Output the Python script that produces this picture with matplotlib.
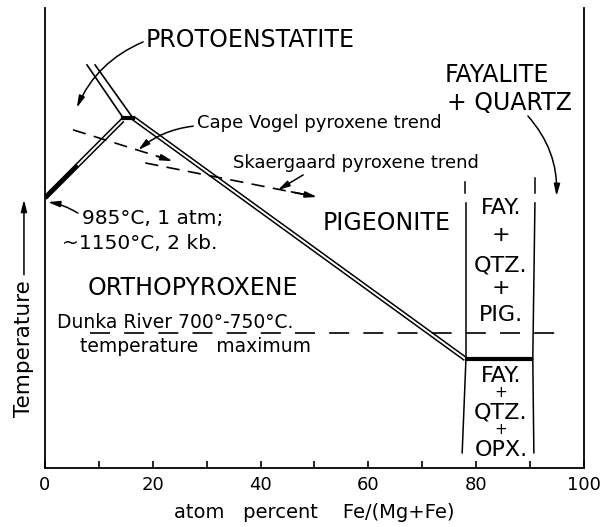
import numpy as np
import matplotlib.pyplot as plt

# phase boundaries, x = atom % Fe/(Mg+Fe), y = relative temperature (0-100)
opx_pig_x = [0, 14.4]
opx_pig_y = [58.7, 75.6]
pig_fq_x = [16.3, 78.0]
pig_fq_y = [76.1, 23.7]
proto_left_x = [7.8, 14.5]
proto_left_y = [87.6, 76.1]
proto_right_x = [9.3, 16.3]
proto_right_y = [87.6, 76.1]
invariant_x = [78.0, 90.4]
invariant_y = [23.7, 23.7]

# fayalite + quartz box edges
box_up_left_x = [78.1, 78.1]
box_up_left_y = [23.7, 57.6]
box_up_right_x = [90.5, 90.9]
box_up_right_y = [23.7, 57.6]
box_tick_left_x = [78.0, 78.0]
box_tick_left_y = [59.8, 62.2]
box_tick_right_x = [90.9, 90.9]
box_tick_right_y = [59.8, 63.0]
box_low_left_x = [78.1, 77.4]
box_low_left_y = [23.7, 3.3]
box_low_right_x = [90.5, 90.7]
box_low_right_y = [23.7, 3.3]

# Dunka River maximum temperature
dunka_x = [8.3, 96.5]
dunka_y = [29.3, 29.3]

# pyroxene crystallisation trends
cape_x = [5.2, 23.7]
cape_y = [73.5, 66.7]
skaer_x = [18.6, 50.5]
skaer_y = [66.3, 58.9]

xticks = [0, 20, 40, 60, 80, 100]
xticks_minor = [10, 30, 50, 70, 90]

fig = plt.figure(figsize=(6.07, 5.27), dpi=100)
ax = fig.add_axes([0.0741, 0.112, 0.888, 0.873])
ax.set_xlim(0, 100)
ax.set_ylim(0, 100)

def double_line(x, y, start_solid=None):
    ax.plot(x, y, color='black', lw=3.6, solid_capstyle='butt')
    if start_solid is not None:
        t = start_solid
        x = [x[0] + t * (x[1] - x[0]), x[1]]
        y = [y[0] + t * (y[1] - y[0]), y[1]]
    ax.plot(x, y, color='white', lw=1.4, solid_capstyle='butt')

double_line(opx_pig_x, opx_pig_y, start_solid=0.42)
double_line(pig_fq_x, pig_fq_y)
ax.plot(proto_left_x, proto_left_y, color='black', lw=1.2)
ax.plot(proto_right_x, proto_right_y, color='black', lw=1.2)
ax.plot([proto_left_x[1], proto_right_x[1]], [proto_left_y[1], proto_right_y[1]],
        color='black', lw=3)
ax.plot(invariant_x, invariant_y, color='black', lw=3, solid_capstyle='butt')

for bx, by in [(box_up_left_x, box_up_left_y), (box_up_right_x, box_up_right_y),
               (box_tick_left_x, box_tick_left_y), (box_tick_right_x, box_tick_right_y),
               (box_low_left_x, box_low_left_y), (box_low_right_x, box_low_right_y)]:
    ax.plot(bx, by, color='black', lw=1.1)

ax.plot(dunka_x, dunka_y, color='black', lw=1.2, linestyle=(0, (12, 8.5)))

# trends: dashed line + arrow head
for tx, ty in [(cape_x, cape_y), (skaer_x, skaer_y)]:
    ax.plot(tx[:1] + [tx[0] + 0.93 * (tx[1] - tx[0])],
            ty[:1] + [ty[0] + 0.93 * (ty[1] - ty[0])],
            color='black', lw=1.2, linestyle=(0, (8, 5)))
    ax.annotate('', xy=(tx[1], ty[1]),
                xytext=(tx[0] + 0.85 * (tx[1] - tx[0]), ty[0] + 0.85 * (ty[1] - ty[0])),
                arrowprops=dict(arrowstyle='-|>,head_length=0.7,head_width=0.18',
                                color='black', lw=1.2, shrinkA=0, shrinkB=0))

arrow = dict(arrowstyle='-|>,head_length=0.7,head_width=0.18', color='black',
             lw=1.1, shrinkA=0, shrinkB=0)

# labels
big = 17
ax.text(18.6, 93.0, 'PROTOENSTATITE', fontsize=big, ha='left', va='center')
ax.annotate('', xy=(5.9, 78.3), xytext=(18.2, 92.6),
            arrowprops=dict(arrow, connectionstyle='arc3,rad=0.2'))
ax.text(74.2, 85.4, 'FAYALITE', fontsize=big, ha='left', va='center')
ax.text(74.6, 79.3, '+ QUARTZ', fontsize=big, ha='left', va='center')
ax.annotate('', xy=(94.9, 59.1), xytext=(89.6, 76.5),
            arrowprops=dict(arrow, connectionstyle='arc3,rad=-0.2'))

ax.text(28.2, 75.0, 'Cape Vogel pyroxene trend', fontsize=13, ha='left', va='center')
ax.annotate('', xy=(17.3, 69.1), xytext=(27.5, 74.3),
            arrowprops=dict(arrow, connectionstyle='arc3,rad=0.15'))
ax.text(34.9, 66.3, 'Skaergaard pyroxene trend', fontsize=13, ha='left', va='center')
ax.annotate('', xy=(43.2, 60.4), xytext=(47.9, 63.7), arrowprops=arrow)

ax.text(6.9, 54.3, '985°C, 1 atm;', fontsize=14.5, ha='left', va='center')
ax.text(3.2, 48.9, '~1150°C, 2 kb.', fontsize=14.5, ha='left', va='center')
ax.annotate('', xy=(0.55, 57.8), xytext=(6.1, 55.4),
            arrowprops=dict(arrow, connectionstyle='arc3,rad=0.1'))

ax.text(51.6, 53.3, 'PIGEONITE', fontsize=big, ha='left', va='center')
ax.text(8.0, 39.1, 'ORTHOPYROXENE', fontsize=big, ha='left', va='center')
ax.text(2.2, 31.7, 'Dunka River 700°-750°C.', fontsize=13.5, ha='left', va='center')
ax.text(6.5, 26.3, 'temperature   maximum', fontsize=13.5, ha='left', va='center')

upper_box = ['FAY.', '+', 'QTZ.', '+', 'PIG.']
upper_y = [56.5, 50.7, 44.1, 39.1, 33.3]
for s, yy in zip(upper_box, upper_y):
    ax.text(84.6, yy, s, fontsize=16, ha='center', va='center')
lower_box = ['FAY.', '+', 'QTZ.', '+', 'OPX.']
lower_y = [20.0, 16.3, 12.0, 8.3, 3.9]
for s, yy in zip(lower_box, lower_y):
    ax.text(84.6, yy, s, fontsize=16 if s != '+' else 11, ha='center', va='center')

# y axis label with arrow
ax.text(-3.9, 26.0, 'Temperature', fontsize=15.5, rotation=90, ha='center', va='center',
        clip_on=False)
ax.annotate('', xy=(-3.9, 58.3), xytext=(-3.9, 42.0), annotation_clip=False,
            arrowprops=arrow)

# axes
ax.spines['top'].set_visible(False)
for s in ['left', 'right', 'bottom']:
    ax.spines[s].set_linewidth(1.3)
ax.set_yticks([])
ax.set_xticks(xticks)
ax.set_xticks(xticks_minor, minor=True)
ax.tick_params(axis='x', which='both', direction='in', length=5, width=1.2,
               labelsize=13, pad=6)
ax.set_xlabel('atom   percent    Fe/(Mg+Fe)', fontsize=14, labelpad=6)

fig.savefig('out.png', dpi=100)
